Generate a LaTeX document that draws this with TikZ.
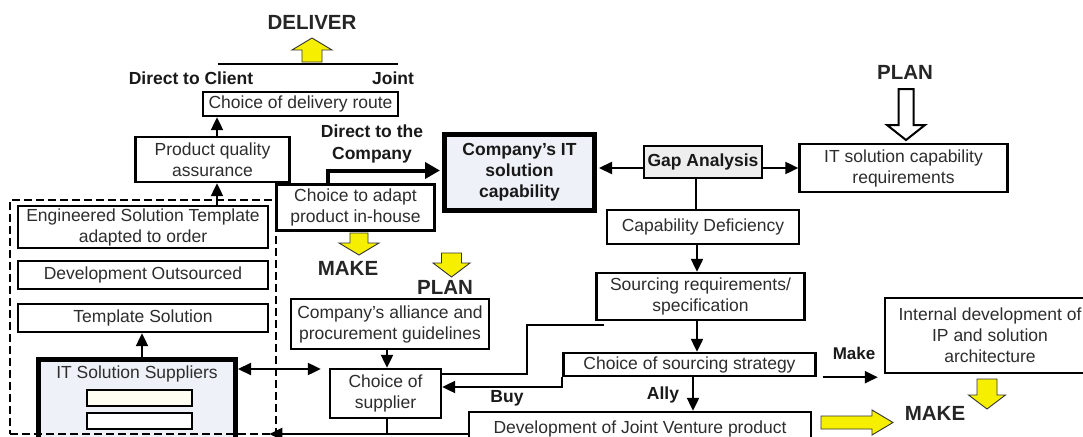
\documentclass[tikz,border=0pt]{standalone}
\usepackage{fontspec}
\setmainfont{Liberation Sans}
\usetikzlibrary{arrows.meta,calc}
\definecolor{txt}{RGB}{45,45,45}
\definecolor{ylw}{RGB}{246,240,0}
\definecolor{paleblue}{RGB}{238,242,248}
\definecolor{palegray}{RGB}{238,238,238}
% block arrow: style, centre x, shaft end y, head base y, tip y, shaft half width, head half width
\newcommand\blockarrowv[7]{%
  \filldraw[#1] ({#2-#6},#3) -- ({#2+#6},#3) -- ({#2+#6},#4) -- ({#2+#7},#4)
    -- (#2,#5) -- ({#2-#7},#4) -- ({#2-#6},#4) -- cycle;}
\begin{document}
\begin{tikzpicture}[x=1pt,y=-1pt,
  box/.style={draw=black, line width=2.4pt, fill=white, inner sep=0pt, align=center,
    font=\fontsize{17.5}{21}\selectfont, text=txt},
  heavy/.style={box, line width=5pt, fill=paleblue,
    font=\fontsize{17.5}{21}\selectfont\bfseries, text=black!90},
  inner/.style={draw=black, line width=2pt, inner sep=0pt, minimum width=105pt, minimum height=16pt},
  lbl/.style={inner sep=0pt, align=center, font=\fontsize{17.5}{22}\selectfont\bfseries, text=black!90},
  biglbl/.style={inner sep=0pt, font=\fontsize{20.5}{24}\selectfont\bfseries, text=black!85},
  conn/.style={line width=2.2pt},
  arr/.style={conn, -{Triangle[length=13pt,width=12pt]}},
  dblarr/.style={conn, {Triangle[length=13pt,width=12pt]}-{Triangle[length=13pt,width=12pt]}},
  thickarr/.style={line width=4pt, -{Triangle[length=15pt,width=16pt]}},
  yarrow/.style={fill=ylw, draw=black!80, line width=0.9pt, line join=miter},
  warrow/.style={fill=white, draw=black, line width=2pt, line join=miter},
  group/.style={draw=black, line width=2.6pt, dash pattern=on 8pt off 4pt, inner sep=0pt}
]
\useasboundingbox (0,0) rectangle (1083,436);
\clip (0,0) rectangle (1083,436);

% ---- delivery side ----
\node[biglbl] (deliver) at (312,22) {DELIVER};
\blockarrowv{yarrow}{312}{62}{50}{38}{10}{20}
\coordinate (routeL) at (218,64);
\coordinate (routeR) at (398,64);
\draw[conn] (routeL) -- (routeR);
\node[lbl] (client) at (191,78) {Direct to Client};
\node[lbl] (joint) at (393,78) {Joint};
\node[box, minimum width=195pt, minimum height=24pt] (delivery) at (300.5,104) {Choice of delivery route};
\node[box, minimum width=154pt, minimum height=45pt] (quality) at (212.5,159.5) {Product quality\\assurance};
\node[lbl] (direct) at (372,144) {Direct to the\\Company};
\node[box, minimum width=158pt, minimum height=46pt] (adapt) at (355.5,207.5) {Choice to adapt\\product in-house};
\node[heavy, minimum width=150pt, minimum height=76pt] (company) at (519.5,172.5) {Company’s IT\\solution\\capability};

% ---- outsourced options ----
\node[box, minimum width=250pt, minimum height=42pt] (engineered) at (143,227) {Engineered Solution Template\\adapted to order};
\node[box, minimum width=250pt, minimum height=28pt] (outsourced) at (143,275) {Development Outsourced};
\node[box, minimum width=250pt, minimum height=28pt] (template) at (143,318) {Template Solution};
\node[heavy, minimum width=197pt, minimum height=92pt] (suppliers) at (137,405) {};
\node[lbl, font=\fontsize{17.5}{21}\selectfont, text=txt] (supptitle) at (137,374) {IT Solution Suppliers};
\node[inner, fill={rgb,255:red,255;green,254;blue,242}] (slotA) at (139.5,398) {};
\node[inner, fill=white] (slotB) at (139.5,421) {};

% ---- planning ----
\node[box, fill=palegray, font=\fontsize{17.5}{21}\selectfont\bfseries, text=black!90,
  minimum width=118pt, minimum height=32pt] (gap) at (703,162) {Gap Analysis};
\node[box, minimum width=208pt, minimum height=48pt] (itreq) at (903.5,168) {IT solution capability\\requirements};
\node[biglbl] (planR) at (905,72) {PLAN};
\blockarrowv{warrow}{906}{89}{125}{140}{7.5}{19}
\node[box, minimum width=192pt, minimum height=34pt] (capdef) at (703,227) {Capability Deficiency};
\node[box, minimum width=208pt, minimum height=47pt] (sourcing) at (700.5,296.5) {Sourcing requirements/\\specification};
\node[box, minimum width=252pt, minimum height=23pt] (strategy) at (689.5,364.5) {Choice of sourcing strategy};
\node[box, minimum width=210pt, minimum height=75pt] (internal) at (990,335.5) {Internal development of\\IP and solution\\architecture};
\node[box, minimum width=342pt, minimum height=33pt] (dev) at (640,428.5) {Development of Joint Venture product};

% ---- supplier choice ----
\blockarrowv{yarrow}{359}{233}{243}{255}{9}{20}
\node[biglbl] (makeL) at (348,268) {MAKE};
\blockarrowv{yarrow}{451.5}{253}{263}{277}{10}{18.5}
\node[biglbl] (planM) at (445,287) {PLAN};
\node[box, minimum width=198pt, minimum height=50pt] (alliance) at (390,324) {Company’s alliance and\\procurement guidelines};
\node[box, minimum width=111pt, minimum height=49pt] (supplier) at (385.5,393.5) {Choice of\\supplier};

% ---- make branch ----
\node[lbl, font=\fontsize{17}{20}\selectfont\bfseries] (makelbl) at (854,353) {Make};
\blockarrowv{yarrow}{987}{379}{395}{409}{10}{18.5}
\node[biglbl] (makeR) at (935,413) {MAKE};
\filldraw[yarrow] (821,416) -- (872,416) -- (872,410) -- (893,422.5) -- (872,435) -- (872,429) -- (821,429) -- cycle;
\node[lbl] (buy) at (507,398) {Buy};
\node[lbl] (ally) at (663,395) {Ally};

% ---- connectors ----
\coordinate (colQ) at (217,0);
\coordinate (colS) at (142,0);
\coordinate (colG) at (696,0);
\coordinate (colA) at (697,0);
\coordinate (colC) at (693,0);
\coordinate (colP) at (387,0);
\coordinate (rowS) at (0,369);
\coordinate (rowB) at (0,387);
\coordinate (rowD) at (0,434);
\coordinate (bendA) at (527,374);

\draw[arr] (colQ |- quality.north) -- (colQ |- delivery.south);
\draw[arr] (colQ |- engineered.north) -- (colQ |- quality.south);
\draw[arr] (colS |- suppliers.north) -- (colS |- template.south);
\draw[dblarr, shorten >=8pt] (suppliers.east |- rowS) -- (supplier.west |- rowS);
\draw[thickarr, shorten >=2pt] ([xshift=-27.5pt]adapt.north) |- ([yshift=2pt]company.west);
\draw[arr, shorten >=2pt] (gap.west |- itreq.west) -- (company.east |- itreq.west);
\draw[arr] (gap.east |- itreq.west) -- (itreq.west);
\draw[conn] (colG |- gap.south) -- (colG |- capdef.north);
\draw[arr] (colA |- capdef.south) -- (colA |- sourcing.north);
\draw[arr] (colA |- sourcing.south) -- (colA |- strategy.north);
\draw[conn] ($(sourcing.south west)+(9,4)$) -| (bendA) -- (supplier.east |- bendA);
\draw[arr] (strategy.south west) -- (strategy.south west |- rowB) -- (supplier.east |- rowB);
\draw[arr] (colC |- strategy.south) -- (colC |- dev.north);
\draw[arr, shorten <=6pt, shorten >=6pt] (strategy.south east) -- (internal.west |- strategy.south east);
\draw[arr] (colP |- alliance.south) -- (colP |- supplier.north);
\draw[conn] (colP |- supplier.south) -- (colP |- rowD);

% dashed frame round the outsourcing options
\node[group, minimum width=266pt, minimum height=234pt] (frame) at (143,317) {};
\draw[arr, shorten >=-8pt] (dev.west |- rowD) -- (frame.east |- rowD);
\end{tikzpicture}
\end{document}
